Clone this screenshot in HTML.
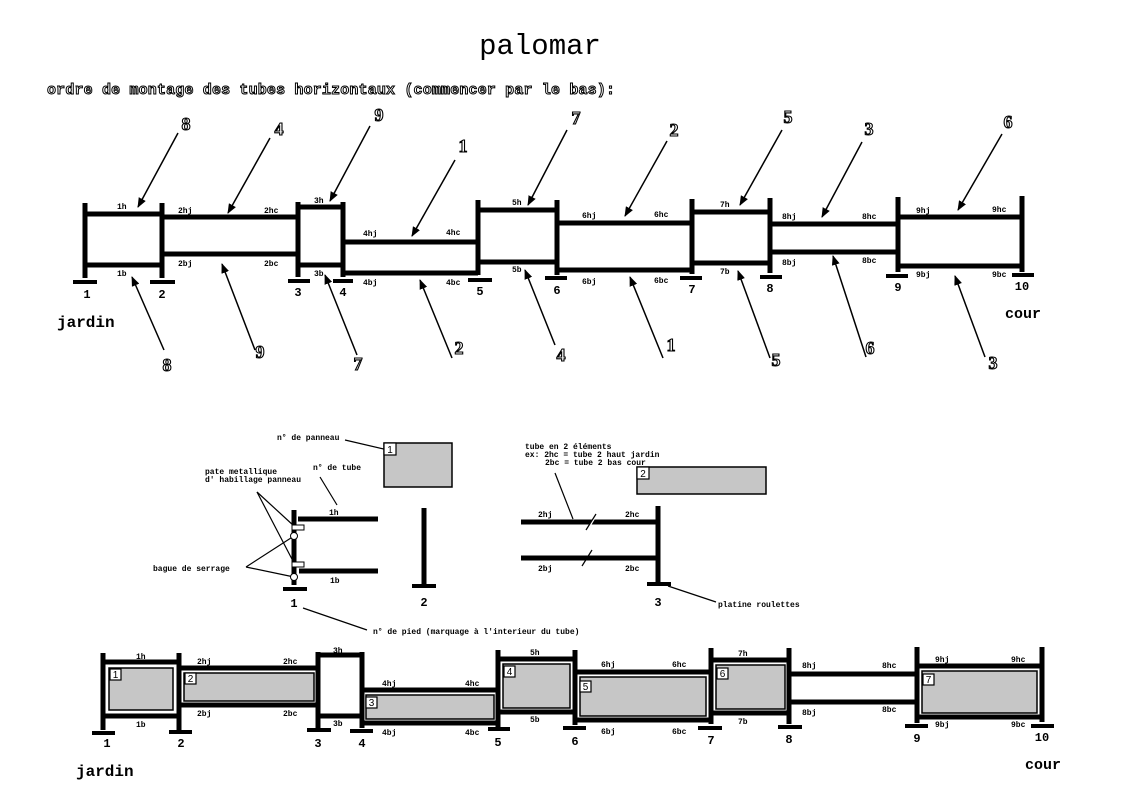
<!DOCTYPE html>
<html><head><meta charset="utf-8"><style>
html,body{margin:0;padding:0;background:#fff}
svg{display:block}
.s{font-family:"Liberation Mono",monospace;font-size:8px;font-weight:bold;fill:#000}
.n{font-family:"Liberation Mono",monospace;font-size:12px;font-weight:bold;fill:#000;text-anchor:middle}
.o{font-family:"Liberation Serif",serif;font-size:18px;font-weight:bold;fill:#fff;stroke:#000;stroke-width:1.1;text-anchor:middle}
.t{stroke:#000;stroke-width:5;fill:none}
.f{stroke:#000;stroke-width:4}
.a{stroke:#000;stroke-width:1.5;marker-end:url(#ah)}
.l{stroke:#000;stroke-width:1.2}
.p{fill:#c6c6c6;stroke:#000;stroke-width:1.5}
.nb{fill:#fff;stroke:#000;stroke-width:1.2}
.nt{font-family:"Liberation Sans",sans-serif;font-size:10px;fill:#000;text-anchor:middle}
</style></head><body>
<svg width="1130" height="796" viewBox="0 0 1130 796" xmlns="http://www.w3.org/2000/svg">
<defs><marker id="ah" markerWidth="10" markerHeight="8" refX="9" refY="4" orient="auto" markerUnits="userSpaceOnUse"><path d="M0,0 L10,4 L0,8 z" fill="#000"/></marker></defs>

<text x="540" y="54" font-family="Liberation Mono,monospace" font-size="29" text-anchor="middle">palomar</text>
<text x="47" y="94" font-family="Liberation Mono,monospace" font-size="15" font-weight="bold" fill="#fff" stroke="#000" stroke-width="1" textLength="568">ordre de montage des tubes horizontaux (commencer par le bas):</text>

<!-- TOP DIAGRAM -->
<g>
<path class="t" d="M85,203V278M162,203V278M298,202V277M343,202V277M478,200V275M557,200V275M692,199V274M770,198V273M898,197V272M1022,196V272"/>
<path class="t" d="M85,214H162M85,265H162M162,217H298M162,254H298M298,207H343M298,265H343M343,242H478M343,273H478M478,210H557M478,262H557M557,223H692M557,270H692M692,212H770M692,263H770M770,224H898M770,252H898M898,217H1022M898,266H1022"/>
<path class="f" d="M73,282H97M150,282H175M288,281H310M333,281H353M468,280H492M545,278H567M680,278H702M760,277H782M886,276H908M1012,275H1034"/>
<g class="n"><text x="87" y="298">1</text><text x="162" y="298">2</text><text x="298" y="296">3</text><text x="343" y="296">4</text><text x="480" y="295">5</text><text x="557" y="294">6</text><text x="692" y="293">7</text><text x="770" y="292">8</text><text x="898" y="291">9</text><text x="1022" y="290">10</text></g>
<g class="s">
<text x="117" y="209">1h</text><text x="117" y="276">1b</text>
<text x="178" y="213">2hj</text><text x="264" y="213">2hc</text><text x="178" y="266">2bj</text><text x="264" y="266">2bc</text>
<text x="314" y="203">3h</text><text x="314" y="276">3b</text>
<text x="363" y="236">4hj</text><text x="446" y="235">4hc</text><text x="363" y="285">4bj</text><text x="446" y="285">4bc</text>
<text x="512" y="205">5h</text><text x="512" y="272">5b</text>
<text x="582" y="218">6hj</text><text x="654" y="217">6hc</text><text x="582" y="284">6bj</text><text x="654" y="283">6bc</text>
<text x="720" y="207">7h</text><text x="720" y="274">7b</text>
<text x="782" y="219">8hj</text><text x="862" y="219">8hc</text><text x="782" y="265">8bj</text><text x="862" y="263">8bc</text>
<text x="916" y="213">9hj</text><text x="992" y="212">9hc</text><text x="916" y="277">9bj</text><text x="992" y="277">9bc</text>
</g>
<text x="57" y="327" font-family="Liberation Mono,monospace" font-size="16" font-weight="bold">jardin</text>
<text x="1005" y="318" font-family="Liberation Mono,monospace" font-size="15" font-weight="bold">cour</text>

<g>
<line class="a" x1="178" y1="133" x2="138" y2="207"/>
<line class="a" x1="270" y1="138" x2="228" y2="213"/>
<line class="a" x1="370" y1="126" x2="330" y2="201"/>
<line class="a" x1="455" y1="160" x2="412" y2="236"/>
<line class="a" x1="567" y1="130" x2="528" y2="205"/>
<line class="a" x1="667" y1="141" x2="625" y2="216"/>
<line class="a" x1="782" y1="130" x2="740" y2="205"/>
<line class="a" x1="862" y1="142" x2="822" y2="217"/>
<line class="a" x1="1002" y1="134" x2="958" y2="210"/>
<line class="a" x1="164" y1="350" x2="132" y2="277"/>
<line class="a" x1="255" y1="350" x2="222" y2="264"/>
<line class="a" x1="357" y1="355" x2="325" y2="275"/>
<line class="a" x1="452" y1="358" x2="420" y2="280"/>
<line class="a" x1="555" y1="345" x2="525" y2="270"/>
<line class="a" x1="663" y1="358" x2="630" y2="277"/>
<line class="a" x1="770" y1="358" x2="738" y2="271"/>
<line class="a" x1="866" y1="357" x2="833" y2="256"/>
<line class="a" x1="985" y1="357" x2="955" y2="276"/>
</g>
<g class="o">
<text x="186" y="130">8</text><text x="279" y="135">4</text><text x="379" y="121">9</text><text x="463" y="152">1</text><text x="576" y="124">7</text><text x="674" y="136">2</text><text x="788" y="123">5</text><text x="869" y="135">3</text><text x="1008" y="128">6</text>
<text x="167" y="371">8</text><text x="260" y="358">9</text><text x="358" y="370">7</text><text x="459" y="354">2</text><text x="561" y="361">4</text><text x="671" y="351">1</text><text x="776" y="366">5</text><text x="870" y="354">6</text><text x="993" y="369">3</text>
</g>
</g>

<!-- MIDDLE LEGEND -->
<g>
<text class="s" x="277" y="440" font-weight="normal">n° de panneau</text>
<line class="l" x1="345" y1="440" x2="388" y2="450"/>
<rect class="p" x="384" y="443" width="68" height="44" stroke-width="1"/>
<rect class="nb" x="384" y="443" width="12" height="12"/>
<text x="390" y="453" class="nt" font-size="9">1</text>
<text class="s" x="313" y="470" font-weight="normal">n° de tube</text>
<line class="l" x1="320" y1="477" x2="337" y2="505"/>
<text class="s" x="329" y="515">1h</text>
<text class="s" x="205" y="474" font-weight="normal">pate metallique</text>
<text class="s" x="205" y="482" font-weight="normal">d' habillage panneau</text>
<line class="l" x1="257" y1="492" x2="294" y2="526"/>
<line class="l" x1="257" y1="492" x2="294" y2="563"/>
<text class="s" x="153" y="571" font-weight="normal">bague de serrage</text>
<line class="l" x1="246" y1="567" x2="294" y2="536"/>
<line class="l" x1="246" y1="567" x2="294" y2="577"/>
<path class="t" d="M294,510V585M298,519H378M299,571H378M424,508V585"/>
<path class="f" d="M283,589H307M412,586H436"/>
<rect x="292" y="525" width="12" height="5" fill="#fff" stroke="#000"/>
<rect x="292" y="562" width="12" height="5" fill="#fff" stroke="#000"/>
<circle cx="294" cy="536" r="3.5" fill="#fff" stroke="#000"/>
<circle cx="294" cy="577" r="3.5" fill="#fff" stroke="#000"/>
<text class="s" x="330" y="583">1b</text>
<text class="n" x="294" y="607">1</text>
<text class="n" x="424" y="606">2</text>
<line class="l" x1="303" y1="608" x2="367" y2="630"/>
<text class="s" x="373" y="634" font-weight="normal">n° de pied (marquage à l'interieur du tube)</text>

<text class="s" x="525" y="449" font-weight="normal">tube en 2 éléments</text>
<text class="s" x="525" y="457" font-weight="normal">ex: 2hc = tube 2 haut jardin</text>
<text class="s" x="545" y="465" font-weight="normal">2bc = tube 2 bas cour</text>
<rect class="p" x="637" y="467" width="129" height="27" stroke-width="1"/>
<rect class="nb" x="637" y="467" width="12" height="12"/>
<text x="643" y="477" class="nt" font-size="9">2</text>
<line class="l" x1="555" y1="473" x2="573" y2="519"/>
<path class="t" d="M521,522H657M521,558H657M658,506V582"/>
<path class="f" d="M647,584H671"/>
<line stroke="#fff" stroke-width="2" x1="589" y1="527" x2="595" y2="517"/>
<line class="l" x1="586" y1="530" x2="596" y2="514"/>
<line class="l" x1="582" y1="566" x2="592" y2="550"/>
<text class="s" x="538" y="517">2hj</text><text class="s" x="625" y="517">2hc</text>
<text class="s" x="538" y="571">2bj</text><text class="s" x="625" y="571">2bc</text>
<text class="n" x="658" y="606">3</text>
<line class="l" x1="668" y1="586" x2="716" y2="602"/>
<text class="s" x="718" y="607" font-weight="normal">platine roulettes</text>
</g>

<!-- BOTTOM DIAGRAM -->
<g>
<path class="t" d="M103,653V730M179,653V730M318,652V728M362,652V728M498,650V727M575,650V725M711,648V724M789,648V724M917,647V723M1042,647V722"/>
<path class="t" d="M103,662H179M103,716H179M179,668H318M179,705H318M318,655H362M318,716H362M362,690H498M362,723H498M498,659H575M498,712H575M575,672H711M575,720H711M711,660H789M711,713H789M789,674H917M789,702H917M917,666H1042M917,717H1042"/>
<g>
<rect class="p" x="109" y="668" width="64" height="42"/>
<rect class="p" x="184" y="673" width="130" height="28"/>
<rect class="p" x="366" y="695" width="128" height="24"/>
<rect class="p" x="503" y="664" width="67" height="44"/>
<rect class="p" x="580" y="677" width="126" height="39"/>
<rect class="p" x="716" y="665" width="69" height="44"/>
<rect class="p" x="922" y="671" width="115" height="42"/>
</g>
<path class="f" d="M92,733H115M169,732H192M307,730H331M350,731H373M488,729H510M563,728H586M698,728H722M778,727H802M905,726H928M1031,726H1054"/>
<g>
<rect class="nb" x="110" y="669" width="11" height="11"/><text class="nt" x="115.5" y="678" font-size="9">1</text>
<rect class="nb" x="185" y="673" width="11" height="11"/><text class="nt" x="190.5" y="682" font-size="9">2</text>
<rect class="nb" x="366" y="697" width="11" height="11"/><text class="nt" x="371.5" y="706" font-size="9">3</text>
<rect class="nb" x="504" y="666" width="11" height="11"/><text class="nt" x="509.5" y="675" font-size="9">4</text>
<rect class="nb" x="580" y="681" width="11" height="11"/><text class="nt" x="585.5" y="690" font-size="9">5</text>
<rect class="nb" x="717" y="668" width="11" height="11"/><text class="nt" x="722.5" y="677" font-size="9">6</text>
<rect class="nb" x="923" y="674" width="11" height="11"/><text class="nt" x="928.5" y="683" font-size="9">7</text>
</g>
<g class="n"><text x="107" y="747">1</text><text x="181" y="747">2</text><text x="318" y="747">3</text><text x="362" y="747">4</text><text x="498" y="746">5</text><text x="575" y="745">6</text><text x="711" y="744">7</text><text x="789" y="743">8</text><text x="917" y="742">9</text><text x="1042" y="741">10</text></g>
<g class="s">
<text x="136" y="659">1h</text><text x="136" y="727">1b</text>
<text x="197" y="664">2hj</text><text x="283" y="664">2hc</text><text x="197" y="716">2bj</text><text x="283" y="716">2bc</text>
<text x="333" y="653">3h</text><text x="333" y="726">3b</text>
<text x="382" y="686">4hj</text><text x="465" y="686">4hc</text><text x="382" y="735">4bj</text><text x="465" y="735">4bc</text>
<text x="530" y="655">5h</text><text x="530" y="722">5b</text>
<text x="601" y="667">6hj</text><text x="672" y="667">6hc</text><text x="601" y="734">6bj</text><text x="672" y="734">6bc</text>
<text x="738" y="656">7h</text><text x="738" y="724">7b</text>
<text x="802" y="668">8hj</text><text x="882" y="668">8hc</text><text x="802" y="715">8bj</text><text x="882" y="712">8bc</text>
<text x="935" y="662">9hj</text><text x="1011" y="662">9hc</text><text x="935" y="727">9bj</text><text x="1011" y="727">9bc</text>
</g>
<text x="76" y="776" font-family="Liberation Mono,monospace" font-size="16" font-weight="bold">jardin</text>
<text x="1025" y="769" font-family="Liberation Mono,monospace" font-size="15" font-weight="bold">cour</text>
</g>
</svg>
</body></html>
